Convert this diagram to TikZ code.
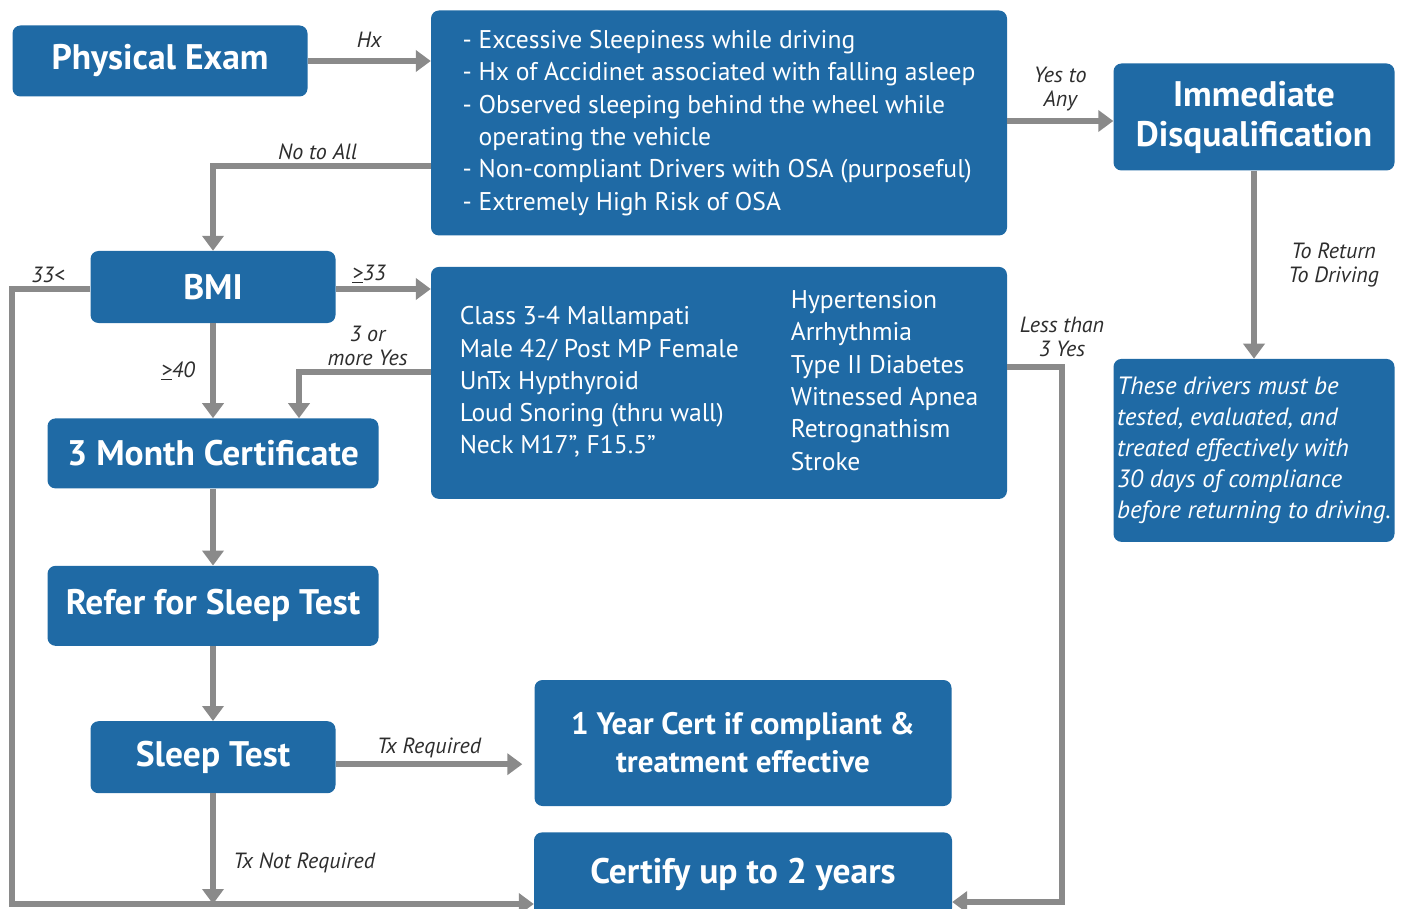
\documentclass[tikz,border=0pt]{standalone}
\usepackage{fontspec}
\setmainfont{PT Sans}
\usepackage{tikz}
\usetikzlibrary{arrows.meta,positioning,calc}
\usepackage{xcolor}
\definecolor{boxblue}{RGB}{31,106,165}
\definecolor{linegray}{RGB}{138,138,138}
\definecolor{labelgray}{RGB}{45,45,45}

\begin{document}
\begin{tikzpicture}[x=1pt,y=-1pt,
box/.style={fill=boxblue,rounded corners=8pt,text=white,inner sep=0pt,align=center},
title/.style={box,font=\fontsize{35.5}{40}\selectfont\bfseries},
list/.style={box,font=\fontsize{25.6}{32.3}\selectfont,align=left},
note/.style={box,font=\fontsize{25}{31}\selectfont\itshape,align=left},
lbl/.style={font=\fontsize{22}{24}\selectfont\itshape,text=labelgray,align=center,inner sep=3pt},
arrow/.style={draw=linegray,line width=6.5pt,-{Triangle[length=15pt,width=21pt]}}]
\useasboundingbox (0,0) rectangle (1408,909);
% top row
\node[title,minimum width=295pt,minimum height=71pt] (exam) at (160,61) {Physical Exam};
\node[list,minimum width=576pt,minimum height=225pt] (hx) at (719,123) {%
- Excessive Sleepiness while driving\\
- Hx of Accidinet associated with falling asleep\\
- Observed sleeping behind the wheel while\\
\hphantom{- }operating the vehicle\\
- Non-compliant Drivers with OSA (purposeful)\\
- Extremely High Risk of OSA};
\node[title,minimum width=281pt,minimum height=107pt] (dq) at (1254,117) {Immediate\\Disqualification};
% criteria and return
\node[list,minimum width=576pt,minimum height=232pt,below=31pt of hx] (crit) {%
\begin{tabular}{@{}l@{}}Class 3-4 Mallampati\\Male 42/ Post MP Female\\UnTx Hypthyroid\\Loud Snoring (thru wall)\\Neck M17”, F15.5”\end{tabular}\hspace{52pt}%
\begin{tabular}{@{}l@{}}Hypertension\\Arrhythmia\\Type II Diabetes\\Witnessed Apnea\\Retrognathism\\Stroke\end{tabular}};
\node[note,minimum width=281pt,minimum height=183pt,below=188pt of dq] (drivers) {%
These drivers must be\\tested, evaluated, and\\treated effectively with\\30 days of compliance\\before returning to driving.};
% left column
\node[title,minimum width=245pt,minimum height=72pt] (bmi) at (213,287) {BMI};
\node[title,minimum width=331pt,minimum height=70pt,below=95pt of bmi] (month) {3 Month Certificate};
\node[title,minimum width=331pt,minimum height=80pt,below=77pt of month] (refer) {Refer for Sleep Test};
\node[title,minimum width=245pt,minimum height=72pt,below=75pt of refer] (sleep) {Sleep Test};
% certificates
\node[title,font=\fontsize{31}{38}\selectfont\bfseries,minimum width=417pt,minimum height=126pt] (cert1) at (743,743) {1 Year Cert if compliant \&\\treatment effective};
\node[title,minimum width=418pt,minimum height=84pt,below=26pt of cert1] (cert2) {Certify up to 2 years};
% bends
\coordinate (lbus) at (12,904);
\coordinate (rbus) at (1062,902);
\coordinate (yesout) at ($(hx.east)+(0,-2)$);
\coordinate (noout) at ($(hx.west)+(0,43)$);
\coordinate (bmiout) at ($(bmi.east)+(0,2)$);
\coordinate (bmiback) at ($(bmi.west)+(0,2)$);
\coordinate (threeout) at ($(crit.west)+(0,-11)$);
\coordinate (threein) at ($(month.north)+(86,0)$);
\coordinate (lessout) at ($(crit.east)+(0,-16)$);
\coordinate (txout) at ($(sleep.east)+(0,7)$);
% connectors
\draw[arrow] (exam.east) -- node[lbl,above=7pt] (lhx) {Hx} (exam.east -| hx.west);
\draw[arrow] (yesout) -- node[lbl,above=4pt] (lany) {Yes to\\Any} (yesout -| dq.west);
\draw[arrow] (noout) -| node[lbl,pos=0.26,above] (lnone) {No to All} (bmi.north);
\draw[arrow] (bmiout) -- node[lbl,pos=0.35,above] (lge33) {\underline{>}33} (bmiout -| crit.west);
\draw[arrow] (bmiback) -| node[lbl,pos=0.27,above] (llt33) {33<} (lbus) -- (lbus -| cert2.west);
\draw[arrow] (bmi) -- node[lbl,left=12pt] (lge40) {\underline{>}40} (month);
\draw[arrow] (threeout) -| node[lbl,pos=0.24,above] (lthree) {3 or\\more Yes} (threein);
\draw[arrow] (lessout) -| node[lbl,pos=0.5,above=4pt] (lless) {Less than\\3 Yes} (rbus) -- (rbus -| cert2.east);
\draw[arrow] (dq) -- node[lbl,right=28pt] (lret) {To Return\\To Driving} (drivers);
\draw[arrow] (month) -- (refer);
\draw[arrow] (refer) -- (sleep);
\draw[arrow,shorten >=12pt] (txout) -- node[lbl,pos=0.47,above] (ltx) {Tx Required} (txout -| cert1.west);
\draw[arrow] (sleep.south) -- node[lbl,pos=0.63,right=14pt] (lnotx) {Tx Not Required} (sleep.south |- lbus);
\end{tikzpicture}
\end{document}
